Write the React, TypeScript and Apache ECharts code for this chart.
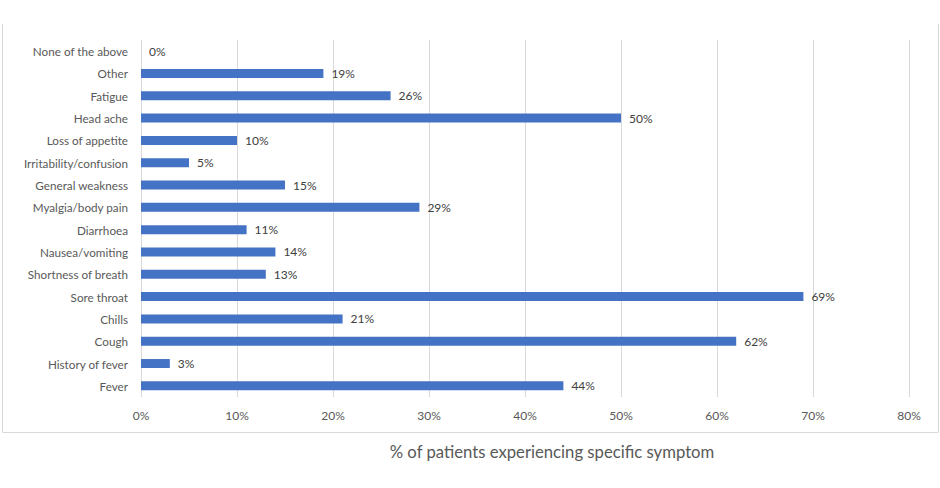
import React, { useEffect, useRef } from "react";
import * as echarts from "echarts";

const categories = [
  "None of the above",
  "Other",
  "Fatigue",
  "Head ache",
  "Loss of appetite",
  "Irritability/confusion",
  "General weakness",
  "Myalgia/body pain",
  "Diarrhoea",
  "Nausea/vomiting",
  "Shortness of breath",
  "Sore throat",
  "Chills",
  "Cough",
  "History of fever",
  "Fever",
];
const values = [0, 19, 26, 50, 10, 5, 15, 29, 11, 14, 13, 69, 21, 62, 3, 44];
const axisTitle = "% of patients experiencing specific symptom";

const FONT = "Lato, 'Open Sans', sans-serif";

export default function App() {
  const ref = useRef<HTMLDivElement>(null);
  useEffect(() => {
    document.body.style.margin = "0";
    const chart = echarts.init(ref.current!, null, { renderer: "svg" });
    const cats = [...categories].reverse();
    const vals = [...values].reverse();
    chart.setOption({
      animation: false,
      backgroundColor: "#ffffff",
      grid: { left: 141, right: 31, top: 40, bottom: 91, containLabel: false },
      xAxis: {
        type: "value",
        min: 0,
        max: 80,
        interval: 10,
        axisLabel: {
          formatter: "{value}%",
          color: "#595959",
          fontFamily: FONT,
          fontSize: 12,
          margin: 12,
        },
        axisLine: { show: false },
        axisTick: { show: false },
        splitLine: { lineStyle: { color: "#d9d9d9", width: 1 } },
      },
      yAxis: {
        type: "category",
        data: cats,
        axisLabel: {
          color: "#595959",
          fontFamily: FONT,
          fontSize: 11.7,
          margin: 13,
        },
        axisLine: { show: false },
        axisTick: { show: false },
        splitLine: { show: false },
      },
      series: [
        {
          type: "bar",
          data: vals,
          barWidth: 9,
          itemStyle: { color: "#4472c4" },
          label: {
            show: true,
            position: "right",
            distance: 8,
            formatter: "{c}%",
            color: "#404040",
            fontFamily: FONT,
            fontSize: 12,
          },
        },
      ],
      graphic: [
        {
          type: "line",
          shape: { x1: 2.5, y1: 24, x2: 2.5, y2: 432.5 },
          style: { stroke: "#d9d9d9", lineWidth: 1 },
        },
        {
          type: "line",
          shape: { x1: 938.5, y1: 24, x2: 938.5, y2: 432.5 },
          style: { stroke: "#d9d9d9", lineWidth: 1 },
        },
        {
          type: "line",
          shape: { x1: 2.5, y1: 432.5, x2: 938.5, y2: 432.5 },
          style: { stroke: "#d9d9d9", lineWidth: 1 },
        },
        {
          type: "text",
          x: 552,
          y: 452,
          style: {
            text: axisTitle,
            fill: "#595959",
            font: `16.7px ${FONT}`,
            align: "center",
            verticalAlign: "middle",
          },
        },
      ],
    });
    return () => chart.dispose();
  }, []);
  return (
    <div
      ref={ref}
      style={{ position: "absolute", left: 0, top: 0, width: 940, height: 488 }}
    />
  );
}
